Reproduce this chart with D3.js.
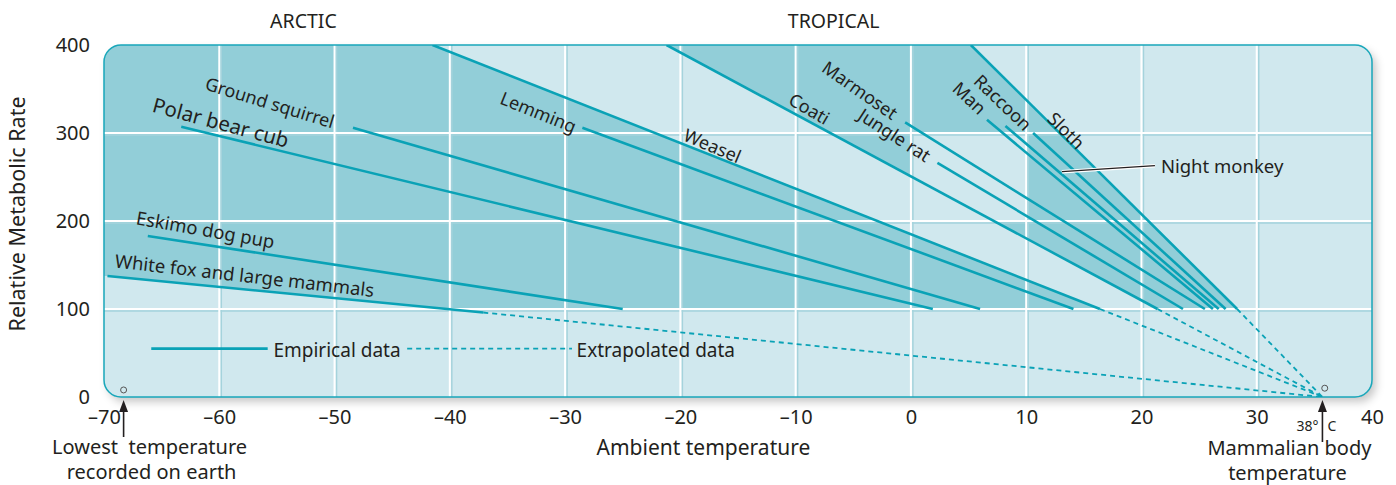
<!DOCTYPE html>
<html>
<head>
<meta charset="utf-8">
<script src="https://cdn.jsdelivr.net/npm/d3@7"></script>
<style>
  body { margin: 0; background: #fff; }
  text { font-family: "Noto Sans", "Open Sans", sans-serif; fill: #231f20; }
</style>
</head>
<body>
<div class="board"></div>
<script>
// species lines: empirical segment from start to end, extrapolation to body temperature
var names = ["White fox and large mammals", "Eskimo dog pup", "Polar bear cub", "Ground squirrel",
    "Lemming", "Weasel", "Coati", "Jungle rat", "Marmoset", "Man", "Night monkey", "Raccoon", "Sloth"]
var startTemp = [-69.7, -66.2, -63.3, -48.4, -28.5, -41.5, -21.2, 2.3, -0.5, 6.6, 8.2, 10.6, 5.2]
var startRate = [137.5, 183, 307, 306, 306, 400, 400, 266, 312, 315, 308, 300, 400]
var endTemp = [-37.1, -25.0, 1.9, 6.0, 14.1, 16.4, 21.4, 23.6, 25.5, 26.2, 26.7, 27.3, 28.3]
var endRate = [96, 100, 100, 100, 100, 100, 100, 100, 100, 100, 100, 100, 100]
var extrapolated = [true, false, false, false, false, true, true, false, false, false, false, false, true]

var bodyTemp = 35.7      // where the lines meet on the drawing (labelled 38 °C)
var lowestTemp = -68.3
var xTicks = [-70, -60, -50, -40, -30, -20, -10, 0, 10, 20, 30, 40]
var yTicks = [0, 100, 200, 300, 400]
var regions = ["ARCTIC", "TROPICAL"]
var regionTemp = [-52.7, -6.7]
var lightCell = [[0, 10], [200, 300]]   // unshaded grid cell inside the tropical band

// label placement (temp, rate, angle, font size)
var labelTemp = [-57.8, -61.2, -59.85, -55.6, -32.3, -17.2, -8.8, -1.4, -4.4, 5.1, null, 8.0, 13.5]
var labelRate = [139, 191, 312.5, 335, 324, 286, 328, 298, 349, 340, null, 335, 303]
var labelAngle = [6.5, 10, 15, 17, 22, 23, 30, 33, 35, 43, 0, 44, 45]
var labelSize = [18.5, 18.5, 20.5, 18, 18, 18, 18, 18, 18, 18, 18.5, 18, 18]

var W = 1396, H = 485
var svg = d3.select(".board").append("svg").attr("width", W).attr("height", H)

var x = d3.scaleLinear().domain([-70, 40]).range([104, 1372])
var y = d3.scaleLinear().domain([0, 400]).range([397, 45])

var LIGHT = "#d0e8ee", DARK = "#92ced8", TEAL = "#0aa2b6"

var defs = svg.append("defs")
var f = defs.append("filter").attr("id", "shadow").attr("x", "-5%").attr("y", "-10%").attr("width", "110%").attr("height", "130%")
f.append("feDropShadow").attr("dx", 4).attr("dy", 5).attr("stdDeviation", 4)
    .attr("flood-color", "#000").attr("flood-opacity", 0.22)

var px0 = x(-70), py0 = y(400), pw = x(40) - x(-70), ph = y(0) - y(400)
defs.append("clipPath").attr("id", "panel")
    .append("rect").attr("x", px0).attr("y", py0).attr("width", pw).attr("height", ph).attr("rx", 17)
defs.append("clipPath").attr("id", "above100")
    .append("rect").attr("x", px0).attr("y", py0).attr("width", pw).attr("height", y(100) - y(400))

// panel
svg.append("rect").attr("x", px0).attr("y", py0).attr("width", pw).attr("height", ph).attr("rx", 17)
    .attr("fill", LIGHT).attr("filter", "url(#shadow)")

// shaded bands
var pt = (t, r) => [x(t), y(r)]
var band = svg.append("g").attr("clip-path", "url(#panel)")
    .append("g").attr("clip-path", "url(#above100)")
var arctic = [pt(-70, 400), pt(startTemp[5], startRate[5]), pt(endTemp[5], endRate[5]),
    pt(endTemp[0], endRate[0]), pt(startTemp[0], startRate[0]), pt(-70, startRate[0])]
var tropical = [pt(startTemp[6], startRate[6]), pt(endTemp[6], endRate[6]),
    pt(endTemp[12], endRate[12]), pt(startTemp[12], startRate[12])]
band.selectAll("polygon").data([arctic, tropical]).enter().append("polygon")
    .attr("points", d => d.join(" ")).attr("fill", DARK)
band.append("rect")
    .attr("x", x(lightCell[0][0])).attr("width", x(lightCell[0][1]) - x(lightCell[0][0]))
    .attr("y", y(lightCell[1][1])).attr("height", y(lightCell[1][0]) - y(lightCell[1][1]))
    .attr("fill", LIGHT)

// grid
var grid = svg.append("g").attr("clip-path", "url(#panel)")
var vx = xTicks.slice(1, -1), hy = yTicks.slice(1, -1)
grid.selectAll(".vs").data(vx).enter().append("line")
    .attr("x1", d => x(d) + 2).attr("x2", d => x(d) + 2).attr("y1", py0).attr("y2", y(0))
    .attr("stroke", "#a5d3dc").attr("stroke-width", 1.5)
grid.selectAll(".hs").data(hy).enter().append("line")
    .attr("y1", d => y(d) + 2).attr("y2", d => y(d) + 2).attr("x1", px0).attr("x2", x(40))
    .attr("stroke", "#a5d3dc").attr("stroke-width", 1.5)
grid.selectAll(".vw").data(vx).enter().append("line")
    .attr("x1", d => x(d)).attr("x2", d => x(d)).attr("y1", py0).attr("y2", y(0))
    .attr("stroke", "#fff").attr("stroke-width", 2)
grid.selectAll(".hw").data(hy).enter().append("line")
    .attr("y1", d => y(d)).attr("y2", d => y(d)).attr("x1", px0).attr("x2", x(40))
    .attr("stroke", "#fff").attr("stroke-width", 2)

// panel border
svg.append("rect").attr("x", px0).attr("y", py0).attr("width", pw).attr("height", ph).attr("rx", 17)
    .attr("fill", "none").attr("stroke", "#19a7ba").attr("stroke-width", 1.5)

// lines
var lines = svg.append("g").attr("clip-path", "url(#panel)")
var idx = d3.range(names.length)
lines.selectAll(".dash").data(idx.filter(i => extrapolated[i])).enter().append("line")
    .attr("x1", i => x(endTemp[i])).attr("y1", i => y(endRate[i]))
    .attr("x2", x(bodyTemp)).attr("y2", y(0))
    .attr("stroke", TEAL).attr("stroke-width", 1.8).attr("stroke-dasharray", "5,4")
lines.selectAll(".solid").data(idx).enter().append("line")
    .attr("x1", i => x(startTemp[i])).attr("y1", i => y(startRate[i]))
    .attr("x2", i => x(endTemp[i])).attr("y2", i => y(endRate[i]))
    .attr("stroke", TEAL).attr("stroke-width", 2.6)

// species labels
svg.selectAll(".lbl").data(idx.filter(i => labelTemp[i] != null)).enter().append("text")
    .attr("transform", i => `translate(${x(labelTemp[i])},${y(labelRate[i])}) rotate(${labelAngle[i]})`)
    .attr("text-anchor", "middle").attr("dominant-baseline", "central")
    .style("font-size", i => labelSize[i] + "px")
    .text(i => names[i])

// night monkey callout
var nmT = 13.1, nmR = 256
svg.append("line").attr("x1", x(nmT)).attr("y1", y(nmR)).attr("x2", x(nmT) + 93).attr("y2", y(nmR) - 6)
    .attr("stroke", "#fff").attr("stroke-width", 3.5)
svg.append("line").attr("x1", x(nmT)).attr("y1", y(nmR)).attr("x2", x(nmT) + 93).attr("y2", y(nmR) - 6)
    .attr("stroke", "#231f20").attr("stroke-width", 1.2)
svg.append("text").attr("x", x(nmT) + 99).attr("y", y(nmR) - 6).attr("dominant-baseline", "central")
    .style("font-size", labelSize[10] + "px").text(names[10])

// legend
var ly = y(55)
svg.append("line").attr("x1", x(-65.9)).attr("x2", x(-55.8)).attr("y1", ly).attr("y2", ly)
    .attr("stroke", TEAL).attr("stroke-width", 2.6)
svg.append("text").attr("x", x(-55.3)).attr("y", ly + 1).attr("dominant-baseline", "central")
    .style("font-size", "19px").text("Empirical data")
svg.append("line").attr("x1", x(-43.7)).attr("x2", x(-29.4)).attr("y1", ly).attr("y2", ly)
    .attr("stroke", TEAL).attr("stroke-width", 1.8).attr("stroke-dasharray", "5,4")
svg.append("text").attr("x", x(-29.0)).attr("y", ly + 1).attr("dominant-baseline", "central")
    .style("font-size", "19px").text("Extrapolated data")

// small circles
svg.selectAll(".dot").data([[lowestTemp, 8], [bodyTemp + 0.2, 10]]).enter().append("circle")
    .attr("cx", d => x(d[0])).attr("cy", d => y(d[1])).attr("r", 3)
    .attr("fill", "none").attr("stroke", "#555").attr("stroke-width", 1)

// axes
var fmt = d => d < 0 ? "\u2013" + Math.abs(d) : "" + d
svg.append("g").attr("transform", `translate(${px0 - 14},0)`)
    .call(d3.axisLeft(y).tickValues(yTicks).tickSize(0).tickPadding(0).tickFormat(fmt))
svg.append("g").attr("transform", `translate(0,${y(0) + 13})`)
    .call(d3.axisBottom(x).tickValues(xTicks).tickSize(0).tickPadding(0).tickFormat(fmt))
svg.selectAll(".domain").remove()
svg.selectAll(".tick text").attr("fill", "#231f20")
    .style("font-family", '"Noto Sans", sans-serif').style("font-size", "20px")

svg.append("text").attr("transform", `translate(25,${y(208)}) rotate(-90)`)
    .attr("text-anchor", "middle").style("font-size", "21.5px").text("Relative Metabolic Rate")
svg.append("text").attr("x", x(-18)).attr("y", 455).attr("text-anchor", "middle")
    .style("font-size", "21px").text("Ambient temperature")
svg.selectAll(".region").data(regions).enter().append("text")
    .attr("x", (d, i) => x(regionTemp[i])).attr("y", 28).attr("text-anchor", "middle")
    .style("font-size", "19.5px").text(d => d)

// arrows and notes
function arrow(t, top, bottom) {
    svg.append("line").attr("x1", x(t)).attr("x2", x(t)).attr("y1", top + 8).attr("y2", bottom)
        .attr("stroke", "#231f20").attr("stroke-width", 1.6)
    svg.append("path").attr("d", `M${x(t)},${top} l-4.5,12 l9,0 z`).attr("fill", "#231f20")
}
arrow(lowestTemp, 400, 437)
arrow(bodyTemp, 400, 442)
svg.append("text").attr("x", x(lowestTemp) + 26).attr("y", 454).attr("text-anchor", "middle")
    .style("font-size", "20px").text("Lowest\u00a0 temperature")
svg.append("text").attr("x", x(lowestTemp) + 28).attr("y", 479).attr("text-anchor", "middle")
    .style("font-size", "20px").text("recorded on earth")
svg.append("text").attr("x", x(bodyTemp) - 33).attr("y", 455).attr("text-anchor", "middle")
    .style("font-size", "20px").text("Mammalian body")
svg.append("text").attr("x", x(bodyTemp) - 35).attr("y", 480).attr("text-anchor", "middle")
    .style("font-size", "20px").text("temperature")
svg.append("text").attr("x", x(bodyTemp) - 4).attr("y", 431).attr("text-anchor", "end")
    .style("font-size", "14px").text("38\u00b0")
svg.append("text").attr("x", x(bodyTemp) + 5).attr("y", 431)
    .style("font-size", "14px").text("C")
</script>
</body>
</html>
